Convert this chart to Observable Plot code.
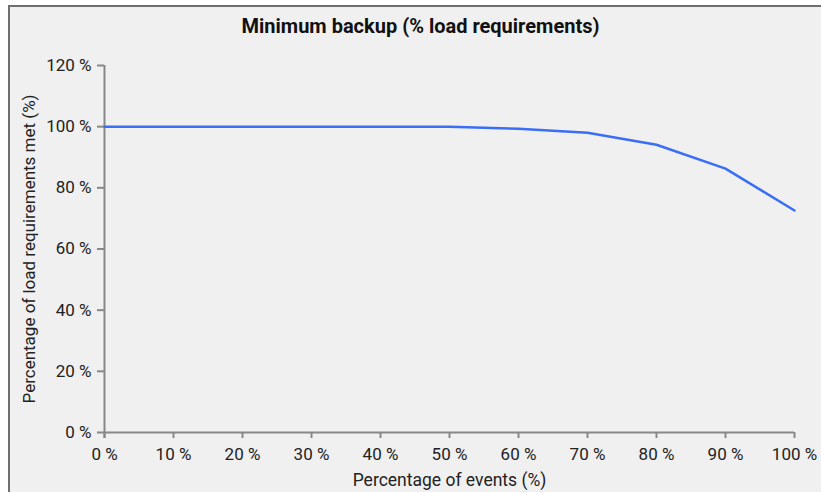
<!DOCTYPE html>
<html>
<head>
<meta charset="utf-8">
<script src="https://cdn.jsdelivr.net/npm/d3@7"></script>
<script src="https://cdn.jsdelivr.net/npm/@observablehq/plot@0.6"></script>
<style>
  html, body { margin: 0; padding: 0; background: #ffffff; }
  #frame {
    position: absolute; left: 8px; top: 5px; width: 813px; height: 487px;
    border-top: 2px solid #6f6f6f; border-left: 2px solid #6f6f6f;
    background: #f0f0f0; box-sizing: border-box; overflow: hidden;
  }
  #title {
    height: 39px; line-height: 39px; text-align: center;
    font-family: Roboto, sans-serif; font-weight: 700; font-size: 20px; color: #111;
    padding-left: 10px;
  }
  #chart svg { display: block; }
  #chart g[aria-label="x-axis tick label"], #chart g[aria-label="y-axis tick label"] { font-size: 17px !important; }
</style>
</head>
<body>
<div id="frame">
  <div id="title">Minimum backup (% load requirements)</div>
  <div id="chart"></div>
</div>
<script>
const eventsPct = [0, 10, 20, 30, 40, 50, 60, 70, 80, 90, 100];
const loadMetPct = [100, 100, 100, 100, 100, 100, 99.3, 98.0, 94.1, 86.3, 72.6];
const xTicks = [0, 10, 20, 30, 40, 50, 60, 70, 80, 90, 100];
const yTicks = [0, 20, 40, 60, 80, 100, 120];
const xLabel = "Percentage of events (%)";
const yLabel = "Percentage of load requirements met (%)";

const data = eventsPct.map((x, i) => ({x, y: loadMetPct[i]}));
const fmt = d => d + " %";

const chart = Plot.plot({
  width: 811,
  height: 446,
  marginLeft: 94,
  marginRight: 27,
  marginTop: 19,
  marginBottom: 60,
  style: {background: "transparent", fontFamily: "Roboto, sans-serif", fontSize: "17px", color: "#222"},
  x: {domain: [0, 100]},
  y: {domain: [0, 120]},
  marks: [
    Plot.axisX({ticks: xTicks, tickFormat: fmt, tickSize: 6, tickPadding: 9, stroke: "#888", strokeWidth: 2, strokeOpacity: 1,
      fill: "#222", fontSize: 17, label: null}),
    Plot.axisX({ticks: [], label: xLabel, labelAnchor: "center", labelArrow: "none", labelOffset: 53, fontSize: 17.5, fill: "#222"}),
    Plot.axisY({ticks: yTicks, tickFormat: fmt, tickSize: 7, tickPadding: 6, stroke: "#888", strokeWidth: 2, strokeOpacity: 1,
      fill: "#222", fontSize: 17, label: null}),
    Plot.axisY({ticks: [], label: yLabel, labelAnchor: "center", labelArrow: "none", labelOffset: 82, fontSize: 17, fill: "#222"}),
    Plot.ruleY([0], {stroke: "#888", strokeWidth: 2}),
    Plot.ruleX([0], {stroke: "#888", strokeWidth: 2, insetBottom: -6}),
    Plot.line(data, {x: "x", y: "y", stroke: "#3b6ef6", strokeWidth: 2.5})
  ]
});
document.getElementById("chart").appendChild(chart);
</script>
</body>
</html>
